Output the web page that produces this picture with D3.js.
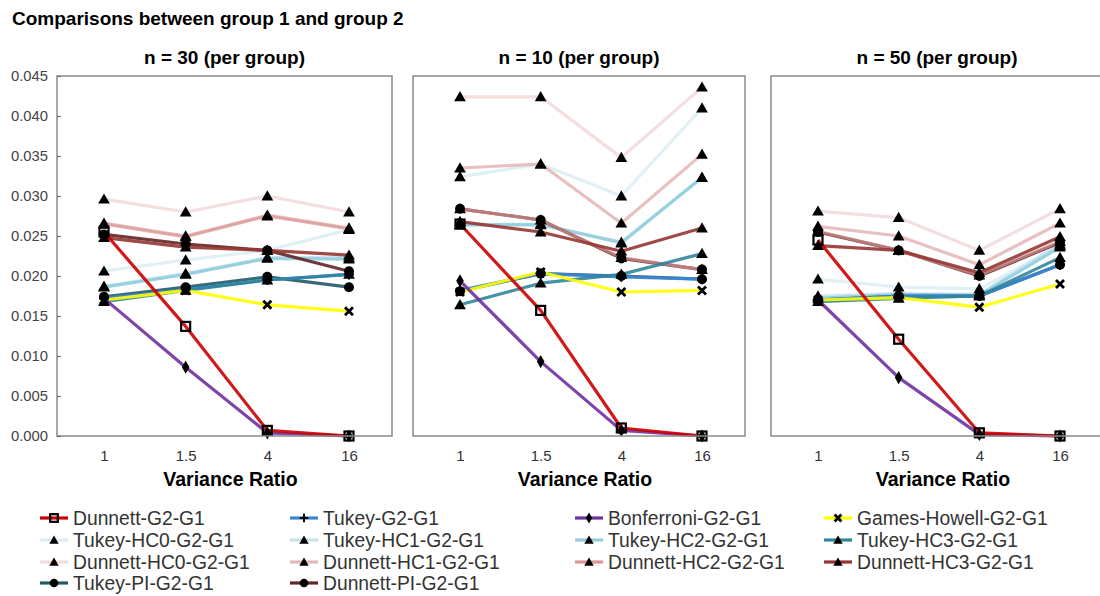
<!DOCTYPE html>
<html><head><meta charset="utf-8">
<script src="https://cdn.jsdelivr.net/npm/d3@7"></script>
<style>body{margin:0;background:#fff}svg{display:block}</style>
</head><body><svg id="c" width="1100" height="596"></svg>
<script>
const categories = ["1", "1.5", "4", "16"];
const yTicks = [0, 0.005, 0.01, 0.015, 0.02, 0.025, 0.03, 0.035, 0.04, 0.045];
const panelTitles = ["n = 30 (per group)", "n = 10 (per group)", "n = 50 (per group)"];
const seriesNames = ["Dunnett-G2-G1","Tukey-G2-G1","Bonferroni-G2-G1","Games-Howell-G2-G1",
  "Tukey-HC0-G2-G1","Tukey-HC1-G2-G1","Tukey-HC2-G2-G1","Tukey-HC3-G2-G1",
  "Dunnett-HC0-G2-G1","Dunnett-HC1-G2-G1","Dunnett-HC2-G2-G1","Dunnett-HC3-G2-G1",
  "Tukey-PI-G2-G1","Dunnett-PI-G2-G1"];
const seriesColors = ["#cc0000","#3a86d6","#7030a0","#ffff00",
  "#ddeef4","#c5e4ee","#92cddd","#31859c",
  "#f2dcdb","#e6b9b8","#d99694","#963634",
  "#215967","#632523"];
const seriesMarkers = ["square","plus","diamond","cross",
  "triangle","triangle","triangle","triangle",
  "triangle","triangle","triangle","triangle",
  "circle","circle"];

// values per panel, in seriesNames order
const n30 = [
  [0.0255, 0.0137, 0.0007, 0.0000],
  [0.0172, 0.0183, 0.0195, 0.0202],
  [0.0172, 0.0086, 0.0004, 0.0000],
  [0.0170, 0.0182, 0.0164, 0.0156],
  [0.0206, 0.0220, 0.0232, 0.0258],
  [0.0187, 0.0203, 0.0223, 0.0223],
  [0.0186, 0.0202, 0.0222, 0.0221],
  [0.0168, 0.0182, 0.0195, 0.0202],
  [0.0296, 0.0280, 0.0300, 0.0280],
  [0.0266, 0.0250, 0.0276, 0.0260],
  [0.0265, 0.0249, 0.0275, 0.0259],
  [0.0248, 0.0236, 0.0232, 0.0226],
  [0.0174, 0.0186, 0.0199, 0.0186],
  [0.0252, 0.0240, 0.0232, 0.0206]
];
const n10 = [
  [0.0265, 0.0157, 0.0010, 0.0000],
  [0.0182, 0.0203, 0.0199, 0.0196],
  [0.0194, 0.0093, 0.0007, 0.0000],
  [0.0180, 0.0205, 0.0180, 0.0182],
  [0.0324, 0.0340, 0.0300, 0.0410],
  [0.0264, 0.0265, 0.0241, 0.0323],
  [0.0264, 0.0264, 0.0242, 0.0323],
  [0.0164, 0.0191, 0.0202, 0.0228],
  [0.0424, 0.0424, 0.0348, 0.0436],
  [0.0335, 0.0340, 0.0266, 0.0352],
  [0.0284, 0.0270, 0.0223, 0.0208],
  [0.0268, 0.0255, 0.0231, 0.0260],
  [0.0181, 0.0203, 0.0200, 0.0196],
  [0.0284, 0.0270, 0.0222, 0.0208]
];
const n50 = [
  [0.0245, 0.0121, 0.0004, 0.0000],
  [0.0170, 0.0175, 0.0175, 0.0214],
  [0.0170, 0.0073, 0.0002, 0.0000],
  [0.0170, 0.0173, 0.0161, 0.0190],
  [0.0196, 0.0186, 0.0184, 0.0238],
  [0.0175, 0.0178, 0.0177, 0.0240],
  [0.0172, 0.0177, 0.0176, 0.0236],
  [0.0168, 0.0172, 0.0175, 0.0223],
  [0.0281, 0.0273, 0.0232, 0.0284],
  [0.0262, 0.0250, 0.0214, 0.0266],
  [0.0256, 0.0232, 0.0201, 0.0243],
  [0.0238, 0.0232, 0.0204, 0.0249],
  [0.0170, 0.0175, 0.0175, 0.0214],
  [0.0255, 0.0232, 0.0200, 0.0242]
];
const panelData = [n30, n10, n50];

const drawOrder = [4,8,5,9,6,13,10,11,12,1,7,3,2,0];

const svg = d3.select("#c");
const FONT = "'Liberation Sans', Arial, Helvetica, sans-serif";
svg.append("text").attr("x", 12).attr("y", 25).attr("font-family", FONT)
  .attr("font-weight", "bold").attr("font-size", 19).attr("fill", "#000")
  .text("Comparisons between group 1 and group 2");

const panels = [{l:57, r:392}, {l:413, r:745}, {l:771, r:1103}];
const plotTop = 76, plotBottom = 436;
const y = d3.scaleLinear().domain([0, 0.045]).range([plotBottom, plotTop]);

function marker(g, type, cx, cy, s) {
  s = s || 1;
  if (type === "triangle") {
    g.append("path").attr("d", d3.symbol(d3.symbolTriangle, 60*s*s)()).attr("transform", `translate(${cx},${cy+1})`).attr("fill", "#000");
  } else if (type === "circle") {
    g.append("circle").attr("cx", cx).attr("cy", cy).attr("r", 5*s).attr("fill", "#000");
  } else if (type === "square") {
    g.append("rect").attr("x", cx-4.5*s).attr("y", cy-4.5*s).attr("width", 9*s).attr("height", 9*s)
      .attr("fill", "none").attr("stroke", "#000").attr("stroke-width", 2.2);
  } else if (type === "diamond") {
    g.append("path").attr("d", d3.symbol(d3.symbolDiamond, 50*s*s)()).attr("transform", `translate(${cx},${cy})`).attr("fill", "#000");
  } else if (type === "cross") {
    const r = 4 * s;
    g.append("path").attr("d", `M${cx-r},${cy-r}L${cx+r},${cy+r}M${cx-r},${cy+r}L${cx+r},${cy-r}`)
      .attr("stroke", "#000").attr("stroke-width", 2.8).attr("fill", "none");
  } else if (type === "plus") {
    g.append("path").attr("d", `M${cx-5*s},${cy}H${cx+5*s}M${cx},${cy-5*s}V${cy+5*s}`).attr("stroke", "#000").attr("stroke-width", 2);
  }
}

panels.forEach((p, pi) => {
  const g = svg.append("g");
  const x = d3.scalePoint().domain(categories).range([p.l + 47, p.r - 43]);
  const data = panelData[pi];
  const line = d3.line().x((d, i) => x(categories[i])).y(d => y(d));
  drawOrder.forEach(si => {
    g.append("path").datum(data[si]).attr("d", line).attr("fill", "none")
      .attr("stroke", seriesColors[si]).attr("stroke-width", 3.2)
      .attr("stroke-opacity", si === 10 ? 0.7 : 0.9)
      .attr("stroke-linejoin", "round");
  });
  drawOrder.forEach(si => {
    data[si].forEach((v, i) => marker(g, seriesMarkers[si], x(categories[i]), y(v)));
  });
  g.append("rect").attr("x", p.l).attr("y", plotTop).attr("width", p.r - p.l).attr("height", plotBottom - plotTop)
    .attr("fill", "none").attr("stroke", "#8a8a8a").attr("stroke-width", 1.5);
  g.append("text").attr("x", (p.l + Math.min(p.r, 1099)) / 2 + (pi===2 ? 2 : 0)).attr("y", 64).attr("text-anchor", "middle")
    .attr("font-family", FONT).attr("font-weight", "bold").attr("font-size", 19).attr("fill", "#000")
    .text(panelTitles[pi]);
  const xa = d3.axisBottom(x).tickSize(0).tickPadding(0);
  const xg = g.append("g").attr("transform", `translate(0,${plotBottom})`).call(xa);
  xg.select(".domain").remove();
  xg.selectAll("text").attr("dy", null).attr("y", 25).attr("font-family", FONT).attr("font-size", 15).attr("fill", "#333");
  g.append("text").attr("x", (x("1") + x("16")) / 2 + 4).attr("y", 486).attr("text-anchor", "middle")
    .attr("font-family", FONT).attr("font-weight", "bold").attr("font-size", 19.5).attr("fill", "#000")
    .text("Variance Ratio");
  if (pi === 0) {
    const ya = d3.axisLeft(y).tickValues(yTicks).tickFormat(d3.format(".3f")).tickSize(-4).tickPadding(9);
    const yg = g.append("g").attr("transform", `translate(${p.l},0)`).call(ya);
    yg.select(".domain").remove();
    yg.selectAll("line").attr("stroke", "#666");
    yg.selectAll("text").attr("font-family", FONT).attr("font-size", 14.8).attr("fill", "#444");
  }
});

const legCols = [40, 290, 575, 824];
const legRows = [518, 540, 562, 583];
const lg = svg.append("g");
seriesNames.forEach((name, i) => {
  const cx = legCols[i % 4], cy = legRows[Math.floor(i / 4)];
  lg.append("line").attr("x1", cx).attr("x2", cx + 28).attr("y1", cy).attr("y2", cy)
    .attr("stroke", seriesColors[i]).attr("stroke-width", 3.2);
  const mt = seriesMarkers[i];
  marker(lg, mt, cx + 14, cy, mt === "triangle" ? 0.8 : 0.85);
  lg.append("text").attr("x", cx + 33).attr("y", cy + 7).attr("font-family", FONT)
    .attr("font-size", 19.3).attr("fill", "#333").text(name);
});
</script></body></html>
